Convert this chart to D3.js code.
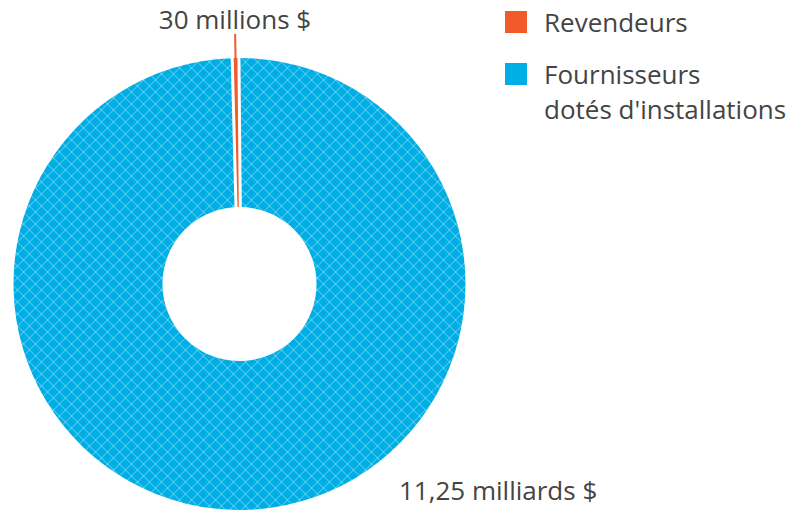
<!DOCTYPE html>
<html>
<head>
<meta charset="utf-8">
<script src="https://cdn.jsdelivr.net/npm/d3@7"></script>
<style>
  body { margin: 0; background: #fff; }
  text { font-family: "Open Sans", "Lato", sans-serif; fill: #444; }
</style>
</head>
<body>
<div id="chart"></div>
<script>
// data
var categories = ["Revendeurs", "Fournisseurs dotés d'installations"];
var values = [0.03, 11.25];           // milliards $
var valueLabels = ["30 millions $", "11,25 milliards $"];
var legendLines = [["Revendeurs"], ["Fournisseurs", "dotés d'installations"]];
var colors = ["#f15a2b", "#00aee6"];

var width = 803, height = 510,
    cx = 239.5, cy = 284,
    outerR = 226, innerR = 77;

var svg = d3.select('#chart').append('svg')
    .attr('width', width)
    .attr('height', height);

// cross hatch for the big slice
var pat = svg.append('defs').append('pattern')
    .attr('id', 'hatch')
    .attr('patternUnits', 'userSpaceOnUse')
    .attr('width', 12).attr('height', 12);
pat.append('rect').attr('width', 12).attr('height', 12).attr('fill', colors[1]);
pat.append('path')
    .attr('d', 'M0,0L12,12M12,0L0,12')
    .attr('stroke', '#6dcff2')
    .attr('stroke-width', 1)
    .attr('fill', 'none');

var center = -1.0 * Math.PI / 180;
var total = d3.sum(values);
var half = values[0] / total * Math.PI;

var pie = d3.pie()
    .sort(null)
    .startAngle(center - half)
    .endAngle(center - half + 2 * Math.PI);
var arcs = pie(values);

var g = svg.append('g').attr('transform', 'translate(' + cx + ',' + cy + ')');

var arcSmall = d3.arc().innerRadius(innerR).outerRadius(outerR);
var arcBig = d3.arc().innerRadius(innerR).outerRadius(outerR)
    .padAngle(6 / outerR).padRadius(outerR);

g.append('path')
    .attr('d', arcBig(arcs[1]))
    .attr('fill', 'url(#hatch)');

g.append('path')
    .attr('d', arcSmall(arcs[0]))
    .attr('fill', colors[0]);

// leader for the small slice
var mid = (arcs[0].startAngle + arcs[0].endAngle) / 2;
g.append('line')
    .attr('x1', Math.sin(mid) * (outerR + 24))
    .attr('y1', -Math.cos(mid) * (outerR + 24))
    .attr('x2', Math.sin(mid) * (outerR - 10))
    .attr('y2', -Math.cos(mid) * (outerR - 10))
    .attr('stroke', colors[0])
    .attr('stroke-width', 2);

svg.append('text')
    .attr('x', 235).attr('y', 29)
    .attr('text-anchor', 'middle')
    .style('font-size', '26px')
    .text(valueLabels[0]);

svg.append('text')
    .attr('x', 399).attr('y', 500)
    .style('font-size', '26px')
    .text(valueLabels[1]);

// legend
var legend = svg.append('g').attr('transform', 'translate(505,11)');
var item = legend.selectAll('g')
    .data(categories)
    .enter().append('g')
    .attr('transform', function(d, i) { return 'translate(0,' + (i * 52) + ')'; });

item.append('rect')
    .attr('width', 22).attr('height', 22)
    .attr('fill', function(d, i) { return colors[i]; });

item.append('text')
    .attr('x', 39).attr('y', 21)
    .style('font-size', '26px')
    .selectAll('tspan')
    .data(function(d, i) { return legendLines[i]; })
    .enter().append('tspan')
    .attr('x', 39)
    .attr('dy', function(d, j) { return j === 0 ? 0 : 35; })
    .text(function(d) { return d; });
</script>
</body>
</html>
